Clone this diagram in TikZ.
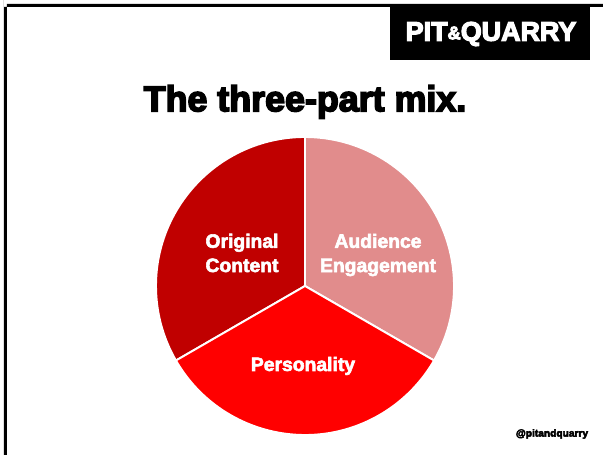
\documentclass[tikz,border=0pt]{standalone}
\usepackage{fontspec}
\newfontfamily\heavyfont[FakeBold=4.5]{Liberation Sans Bold}
\newfontfamily\labelfont[FakeBold=3]{Liberation Sans Bold}
\newfontfamily\logofont[FakeBold=4.5]{Liberation Sans Bold}
\usepackage{xcolor}
\definecolor{darkslice}{HTML}{C00000}
\definecolor{paleslice}{HTML}{E18C8C}
\definecolor{brightslice}{HTML}{FF0000}
\tikzset{
    slice/.style={draw=white,line width=1.1pt,line join=round},
    slicelabel/.style={text=white,align=center,font=\labelfont\fontsize{11}{13.8}\selectfont,inner sep=0pt}
}
\begin{document}
\begin{tikzpicture}[x=0.02cm,y=0.02cm]
    \useasboundingbox[fill=white] (0,0) rectangle (603,455);
    % Slide frame, top and left side only
    \fill[black] (4,455) -- (4,448) -- (603,448) -- (603,451) -- (7,451) -- (7,0) -- (4,0) -- cycle;
    % Logo
    \fill[black] (390,451) rectangle (590,395);
    \node[text=white,inner sep=0pt,font=\logofont\fontsize{15.3}{18}\selectfont] (logo) at (491,421) {PIT\raisebox{0.1ex}{\fontsize{10.5}{12}\selectfont\&}QUARRY};
    % Title
    \node[inner sep=0pt,font=\heavyfont\fontsize{20.4}{24}\selectfont] (title) at (305,353) {The three-part mix.};
    % Three slices around the centre
    \coordinate (pie) at (305,169);
    \filldraw[slice,fill=darkslice] (pie) -- ++(90:149) arc (90:210:149) -- cycle;
    \filldraw[slice,fill=paleslice] (pie) -- ++(-30:149) arc (-30:90:149) -- cycle;
    \filldraw[slice,fill=brightslice] (pie) -- ++(210:149) arc (210:330:149) -- cycle;
    \node[slicelabel] (original) at (242,202) {Original\\Content};
    \node[slicelabel] (audience) at (378,200) {Audience\\Engagement};
    \node[slicelabel] (personality) at (303,89) {Personality};
    \node[inner sep=0pt,font=\logofont\fontsize{5.8}{7}\selectfont] (handle) at (552,21) {@pitandquarry};
\end{tikzpicture}
\end{document}
